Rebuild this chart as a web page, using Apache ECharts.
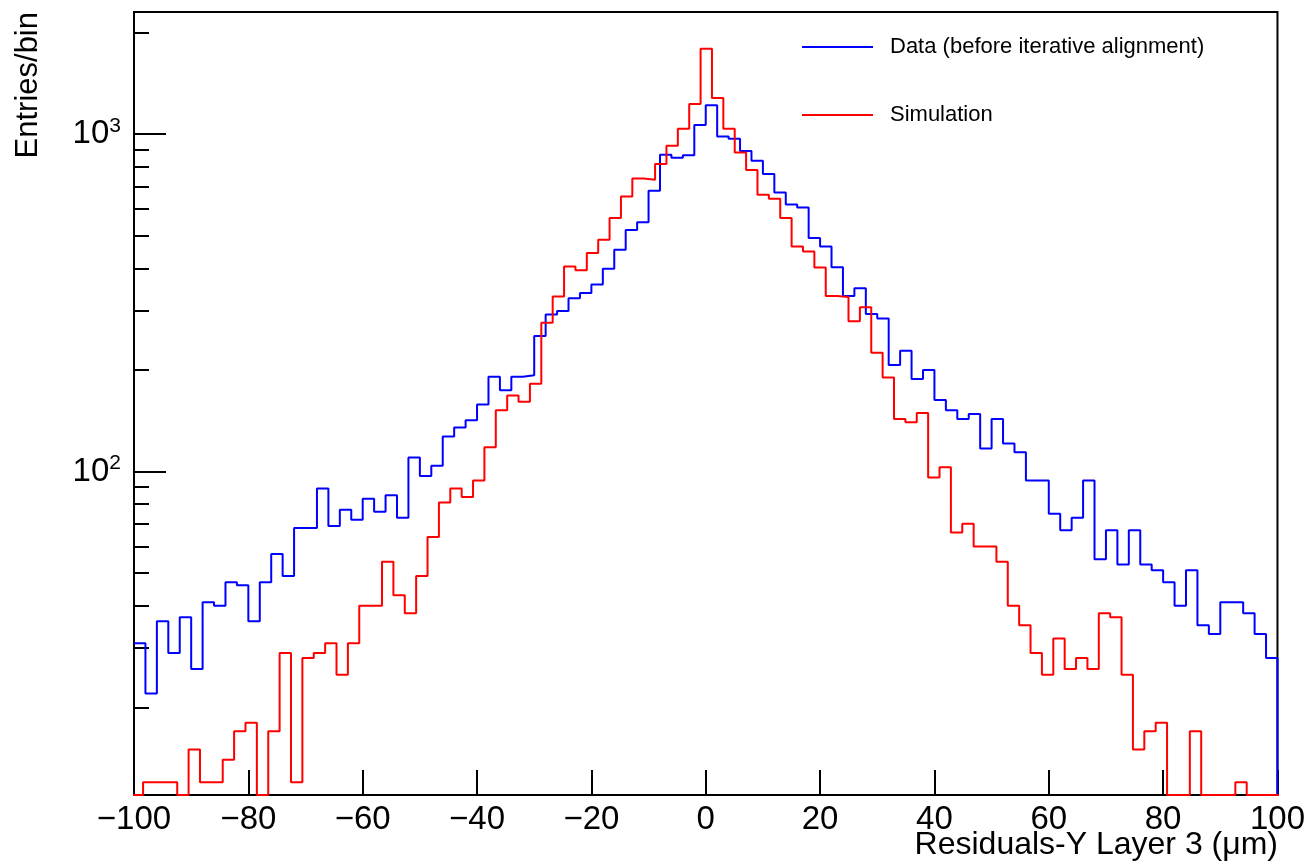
<!DOCTYPE html>
<html>
<head>
<meta charset="utf-8">
<title>Residuals-Y Layer 3</title>
<script src="https://cdn.jsdelivr.net/npm/echarts@6/dist/echarts.min.js"></script>
<style>
  html, body { margin: 0; padding: 0; background: #fff; }
  #myChart { width: 1308px; height: 864px; }
</style>
</head>
<body>
<div id="myChart"></div>
<script>
// entries per bin
const dataCounts = [
  31, 22, 36, 29, 37, 26, 41, 40, 47, 46,
  36, 47, 57, 49, 68, 68, 89, 69, 77, 72,
  83, 76, 85, 73, 110, 97, 104, 127, 135, 142,
  158, 191, 174, 191, 193, 252, 292, 299, 326, 338,
  358, 399, 454, 520, 548, 679, 868, 851, 865, 1064,
  1217, 984, 969, 891, 834, 762, 671, 618, 606, 492,
  464, 403, 331, 349, 293, 284, 207, 228, 188, 200,
  163, 152, 143, 148, 117, 143, 121, 114, 94, 94,
  75, 67, 73, 94, 55, 67, 53, 67, 53, 51,
  47, 40, 51, 35, 33, 41, 41, 38, 33, 28
];
const simCounts = [
  9, 12, 12, 12, 9, 15, 12, 12, 14, 17,
  18, 9, 17, 29, 12, 28, 29, 31, 25, 31,
  40, 40, 54, 43, 38, 49, 64, 81, 89, 84,
  94, 118, 152, 168, 161, 182, 276, 330, 405, 395,
  444, 486, 564, 653, 738, 732, 815, 924, 1037, 1228,
  1790, 1280, 1037, 882, 782, 661, 643, 564, 464, 449,
  402, 331, 329, 279, 307, 225, 190, 143, 140, 149,
  96, 103, 66, 70, 60, 60, 54, 40, 35, 29,
  25, 32, 26, 28, 26, 38, 37, 25, 15, 17,
  18, 9, 9, 17, 9, 9, 9, 12, 9, 9, 9
];
// binning (um): data 2 um bins from -100, simulation bins a bit narrower / shifted
const dataLowEdge = -100;
const dataBinWidth = 2;
const simLowEdge = -100.4;
const simBinWidth = 1.99;

const seriesNames = ["Data (before iterative alignment)", "Simulation"];
const yMajorTicks = [100, 1000];
const yMinorTicks = [20, 30, 40, 50, 60, 70, 80, 90, 200, 300, 400, 500, 600, 700, 800, 900, 2000];
const yMin = 11;
const yMax = 2300;
const xMin = -100;
const xMax = 100;

const FONT = "'Liberation Sans', Arial, Helvetica, sans-serif";

// histogram outline: each bin gives a flat segment, bins below the minimum sit on the frame
function outline(counts, lowEdge, width) {
  const pts = [];
  counts.forEach((c, i) => {
    const v = Math.max(c, yMin);
    pts.push([lowEdge + i * width, v]);
    pts.push([lowEdge + (i + 1) * width, v]);
  });
  return pts;
}

const dataLine = outline(dataCounts, dataLowEdge, dataBinWidth);
dataLine.push([dataLowEdge + dataCounts.length * dataBinWidth, yMin]);
const simLine = outline(simCounts, simLowEdge, simBinWidth);

const logAxisBase = {
  type: "log",
  logBase: 10,
  min: yMin,
  max: yMax,
  position: "left",
  splitLine: { show: false },
  minorTick: { show: false },
};

const option = {
  animation: false,
  backgroundColor: "#fff",
  textStyle: { fontFamily: FONT, color: "#000" },
  grid: {
    left: 134,
    right: 30,
    top: 12,
    bottom: 69,
    show: true,
    borderColor: "#000",
    borderWidth: 2,
    backgroundColor: "transparent",
  },
  legend: {
    data: seriesNames,
    orient: "vertical",
    left: 802,
    top: 36,
    padding: 0,
    itemWidth: 71,
    itemHeight: 2,
    itemGap: 46,
    icon: "rect",
    textStyle: {
      fontFamily: FONT,
      fontSize: 22,
      lineHeight: 22,
      color: "#000",
      padding: [0, 0, 0, 12],
    },
  },
  xAxis: {
    type: "value",
    min: xMin,
    max: xMax,
    interval: 20,
    axisLine: { onZero: false, lineStyle: { color: "#000", width: 2 } },
    axisTick: { inside: true, length: 25, lineStyle: { color: "#000", width: 2 } },
    axisLabel: {
      margin: 8,
      fontSize: 33,
      color: "#000",
      fontFamily: FONT,
      formatter: (v) => String(v).replace("-", "\u2212"),
    },
    splitLine: { show: false },
  },
  yAxis: [
    Object.assign({}, logAxisBase, {
      axisLine: { show: true, onZero: false, lineStyle: { color: "#000", width: 2 } },
      axisTick: {
        inside: true,
        length: 32,
        customValues: yMajorTicks,
        lineStyle: { color: "#000", width: 2 },
      },
      axisLabel: {
        customValues: yMajorTicks,
        margin: 13,
        formatter: (v) => "{b|10}{e|" + Math.round(Math.log10(v)) + "}",
        rich: {
          b: { fontSize: 33, fontFamily: FONT, color: "#000" },
          e: { fontSize: 21, fontFamily: FONT, color: "#000", padding: [0, 0, 16, 0] },
        },
      },
    }),
    Object.assign({}, logAxisBase, {
      axisLine: { show: false, onZero: false },
      axisTick: {
        inside: true,
        length: 15,
        customValues: yMinorTicks,
        lineStyle: { color: "#000", width: 2 },
      },
      axisLabel: { show: false },
    }),
  ],
  series: [
    {
      name: seriesNames[0],
      type: "line",
      data: dataLine,
      yAxisIndex: 0,
      symbol: "none",
      color: "#0000ff",
      lineStyle: { color: "#0000ff", width: 2 },
      clip: true,
    },
    {
      name: seriesNames[1],
      type: "line",
      data: simLine,
      yAxisIndex: 0,
      symbol: "none",
      color: "#ff0000",
      lineStyle: { color: "#ff0000", width: 2 },
      clip: true,
    },
  ],
  graphic: [
    {
      type: "text",
      right: 30,
      top: 829,
      style: {
        text: "Residuals-Y Layer 3 (\u03bcm)",
        fontFamily: FONT,
        fontSize: 32,
        fill: "#000",
      },
    },
    {
      type: "text",
      x: 28,
      y: 12,
      rotation: Math.PI / 2,
      style: {
        text: "Entries/bin",
        fontFamily: FONT,
        fontSize: 31,
        fill: "#000",
        align: "right",
        verticalAlign: "middle",
      },
    },
  ],
};

const chart = echarts.init(document.getElementById("myChart"));
chart.setOption(option);
</script>
</body>
</html>
